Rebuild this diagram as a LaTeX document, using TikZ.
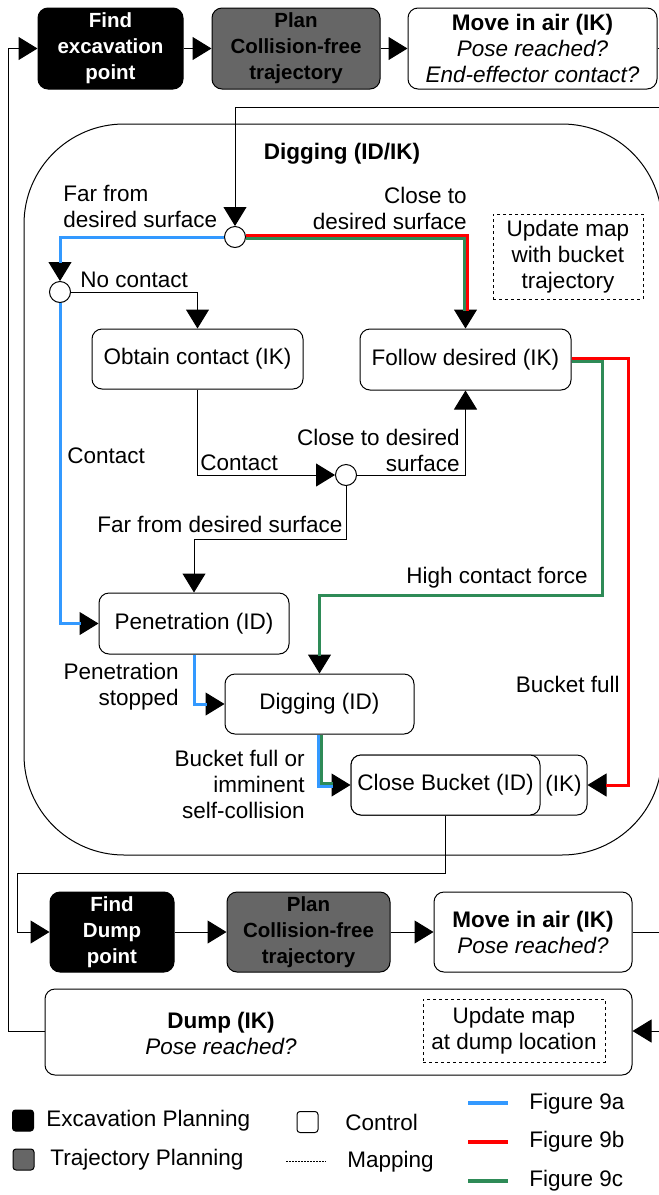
\documentclass[tikz,border=0pt]{standalone}
\usepackage{fontspec}
\setmainfont{Liberation Sans}
\usetikzlibrary{arrows.meta,calc}
\definecolor{fignA}{HTML}{3399FF}
\definecolor{fignB}{HTML}{FF0000}
\definecolor{fignC}{HTML}{2E8B57}
\definecolor{trajgray}{HTML}{666666}
\begin{document}
\begin{tikzpicture}[x=0.5pt,y=-0.5pt,
  font=\fontsize{11.25}{13}\selectfont,
  box/.style={draw, rounded corners=5pt, line width=0.5pt, align=center, inner sep=0pt},
  ctrlbox/.style={box, fill=white},
  excbox/.style={box, fill=black, text=white, font=\fontsize{10.25}{13}\selectfont\bfseries},
  trajbox/.style={box, fill=trajgray, text=black, font=\fontsize{10.25}{13}\selectfont\bfseries},
  mapbox/.style={draw, dash pattern=on 1.5pt off 1.5pt, line width=0.5pt, align=center, inner sep=0pt},
  junc/.style={circle, draw, fill=white, minimum size=10.5pt, inner sep=0pt, line width=0.5pt},
  lbl/.style={inner sep=0pt, align=left},
  conn/.style={line width=0.5pt, -{Triangle[length=9.5pt,width=11.5pt]}},
  plainconn/.style={line width=0.5pt},
  fa/.style={fignA, line width=1.5pt},
  fb/.style={fignB, line width=1.5pt},
  fc/.style={fignC, line width=1.5pt},
  tipgap/.style={shorten >=9pt}
]
\useasboundingbox (0,0) rectangle (659,1195);

% ---------- top row ----------
\node[excbox, minimum width=72.5pt, minimum height=40.5pt] (find1) at (110.5,48.5) {Find\\excavation\\point};
\node[trajbox, minimum width=84pt, minimum height=40.5pt] (plan1) at (296,48.5) {Plan\\Collision-free\\trajectory};
\node[ctrlbox, minimum width=124.5pt, minimum height=40.5pt] (move1) at (532.5,48.5) {\textbf{Move in air (IK)}\\\textit{Pose reached?}\\\textit{End-effector contact?}};

% ---------- digging block ----------
\node[draw, rounded corners=50pt, minimum width=319pt, minimum height=365.5pt, line width=0.5pt] (digbig) at (343,489.5) {};
\node[lbl, font=\fontsize{11.25}{13}\selectfont\bfseries] (digtitle) at (342,154) {Digging (ID/IK)};
\node[mapbox, minimum width=75pt, minimum height=42.5pt] (updmap1) at (568,256.5) {Update map\\with bucket\\trajectory};

\node[junc] (j1) at (235,237) {};
\node[junc] (j2) at (60,292) {};
\node[junc] (j3) at (346,475) {};

\node[ctrlbox, minimum width=105.5pt, minimum height=30pt] (obtain) at (197.5,359) {Obtain contact (IK)};
\node[ctrlbox, minimum width=105.5pt, minimum height=30.5pt] (follow) at (465.5,359.5) {Follow desired (IK)};
\node[ctrlbox, minimum width=95pt, minimum height=30.5pt] (pen) at (194,623.5) {Penetration (ID)};
\node[ctrlbox, minimum width=94.5pt, minimum height=30pt] (dig) at (319.5,704) {Digging (ID)};
\node[ctrlbox, minimum width=118pt, minimum height=30pt] (ikbox) at (469,785) {};
\node[lbl] (iklbl) at (563.5,786) {(IK)};
\node[ctrlbox, minimum width=94.5pt, minimum height=30pt] (closeb) at (445.5,785) {Close Bucket (ID)};

% labels
\node[lbl, anchor=west] (lfar1) at (63,206.5) {Far from\\desired surface};
\node[lbl, anchor=east, align=right] (lclose1) at (467,208) {Close to\\desired surface};
\node[lbl, anchor=west] (lnoc) at (80,280) {No contact};
\node[lbl, anchor=west] (lcont1) at (67,456) {Contact};
\node[lbl, anchor=west] (lcont2) at (200,463) {Contact};
\node[lbl, anchor=east, align=right] (lclose2) at (460,450.5) {Close to desired\\surface};
\node[lbl, anchor=west] (lfar2) at (97,524) {Far from desired surface};
\node[lbl, anchor=east] (lhigh) at (588,578) {High contact force};
\node[lbl, anchor=east] (lbfull) at (620,684) {Bucket full};
\node[lbl, anchor=east, align=right] (lpens) at (179,686.5) {Penetration\\stopped};
\node[lbl, anchor=east, align=right] (lbfo) at (305,784) {Bucket full or\\imminent\\self-collision};

% ---------- bottom rows ----------
\node[excbox, minimum width=62pt, minimum height=40pt] (find2) at (112,932) {Find\\Dump\\point};
\node[trajbox, minimum width=81.5pt, minimum height=40pt] (plan2) at (308.5,932) {Plan\\Collision-free\\trajectory};
\node[ctrlbox, minimum width=99pt, minimum height=40pt] (move2) at (533,932) {\textbf{Move in air (IK)}\\\textit{Pose reached?}};
\node[ctrlbox, minimum width=293.5pt, minimum height=43pt] (dump) at (338.5,1032) {};
\node[lbl, align=center] (dumplbl) at (221,1033) {\textbf{Dump (IK)}\\\textit{Pose reached?}};
\node[mapbox, minimum width=91pt, minimum height=31.5pt] (updmap2) at (514,1030.5) {Update map\\at dump location};

% edge coordinates
\coordinate (edgeA) at (665,48.5);
\coordinate (edgeB) at (665,107);
\coordinate (edgeC) at (665,932);
\coordinate (edgeD) at (665,1031);

% ---------- black connectors ----------
\draw[conn] (find1) -- (plan1);
\draw[conn] (plan1) -- (move1);
\draw[plainconn] (move1.east) -- (edgeA);
\draw[conn] (edgeB) -| (j1.north);
\draw[conn] (j1.west) -| (j2.north);
\draw[conn] (j1.east) -| (follow.north);
\draw[conn] (j2.east) -| (obtain.north);
\draw[conn] (j2.south) |- (pen.west);
\draw[conn] (obtain.south) |- (j3.west);
\draw[conn] (j3.east) -| (follow.south);
\draw[conn] (j3.south) -- (j3.south |- 0,539) -| (pen.north);
\draw[conn] (pen.south) |- (dig.west);
\draw[conn] ([yshift=-.75pt]follow.east) -| (602,595) -| (dig.north);
\draw[conn] ([yshift=.75pt]follow.east) -| (628,785) -- (ikbox.east);
\draw[conn] (dig.south) |- (closeb.west);
\draw[conn] (closeb.south) |- (17.6,873) |- (find2.west);
\draw[conn] (find2) -- (plan2);
\draw[conn] (plan2) -- (move2);
\draw[plainconn] (move2.east) -- (edgeC);
\draw[conn] (edgeD) -- (dump.east |- edgeD);
\draw[conn] (dump.west |- edgeD) -- (8,1031) |- (find1.west);

% ---------- coloured overlays ----------
\draw[fa, tipgap] (j1.west) -| (j2.north);
\draw[fa, tipgap] (j2.south) |- (pen.west);
\draw[fa, tipgap] (pen.south) |- (dig.west);
\draw[fa, tipgap] ([xshift=-.75pt]dig.south) |- ([yshift=-.75pt]closeb.west);

\draw[fb, tipgap] ([yshift=.75pt]j1.east) -| ([xshift=.75pt]follow.north);
\draw[fb, tipgap] ([yshift=.75pt]follow.east) -| (628,785) -- (ikbox.east);

\draw[fc, tipgap] ([yshift=-.75pt]j1.east) -| ([xshift=-.75pt]follow.north);
\draw[fc, tipgap] ([yshift=-.75pt]follow.east) -| (602,595) -| (dig.north);
\draw[fc, tipgap] ([xshift=.75pt]dig.south) |- ([yshift=.75pt]closeb.west);

% ---------- legend ----------
\node[box, fill=black, rounded corners=1.5pt, minimum size=10.5pt] (legexc) at (23,1120.5) {};
\node[lbl, anchor=west] (legexct) at (46,1121) {Excavation Planning};
\node[box, fill=trajgray, rounded corners=1.5pt, minimum size=10.5pt] (legtraj) at (23.5,1159.5) {};
\node[lbl, anchor=west] (legtrajt) at (50,1160) {Trajectory Planning};
\node[box, fill=white, rounded corners=1.5pt, minimum size=10.5pt] (legctrl) at (307.5,1122) {};
\node[lbl, anchor=west] (legctrlt) at (345,1122) {Control};
\coordinate (lm1) at (286,1161);
\coordinate (lm2) at (326,1161);
\draw[line width=0.5pt, dash pattern=on 0.75pt off 0.75pt] (lm1) -- (lm2);
\node[lbl, anchor=west] (legmapt) at (347,1162) {Mapping};
\coordinate (la1) at (468,1103);
\coordinate (la2) at (508,1103);
\draw[fa, line width=1.7pt] (la1) -- (la2);
\node[lbl, anchor=west] (legat) at (529,1104) {Figure 9a};
\coordinate (lb1) at (468,1142);
\coordinate (lb2) at (508,1142);
\draw[fb, line width=1.7pt] (lb1) -- (lb2);
\node[lbl, anchor=west] (legbt) at (529,1142) {Figure 9b};
\coordinate (lc1) at (468,1181);
\coordinate (lc2) at (508,1181);
\draw[fc, line width=1.7pt] (lc1) -- (lc2);
\node[lbl, anchor=west] (legct) at (529,1181) {Figure 9c};
\end{tikzpicture}
\end{document}
